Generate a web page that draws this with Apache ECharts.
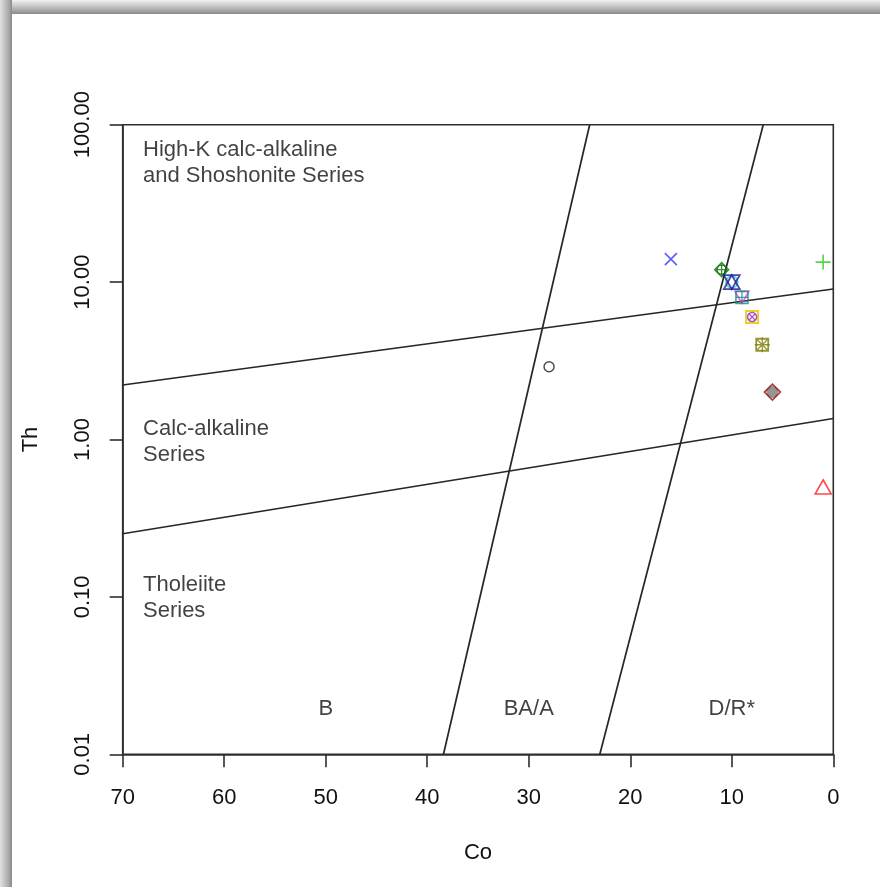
<!DOCTYPE html>
<html>
<head>
<meta charset="utf-8">
<script src="https://cdn.jsdelivr.net/npm/echarts@6/dist/echarts.min.js"></script>
<style>
html,body{margin:0;padding:0;background:#fff;}
#chart{width:880px;height:887px;}
</style>
</head>
<body>
<div id="chart"></div>
<script>
// ---- data ----
const sampleCo = [16, 1, 1, 28, 11, 10, 9, 8, 7, 6];
const sampleTh = [14, 13.4, 0.5, 2.9, 12, 10, 8, 6, 4, 2];

// boundary lines (Co, Th)
const horizCo = [70, 0];
const upperTh = [2.22, 9.04];
const lowerTh = [0.252, 1.36];
const steepTh = [0.01, 100];
const leftCo = [38.4, 24.0];
const rightCo = [23.0, 6.9];

// region labels
const seriesLabels = ['High-K calc-alkaline\nand Shoshonite Series', 'Calc-alkaline\nSeries', 'Tholeiite\nSeries'];
const seriesLabelCo = [68, 68, 68];
const seriesLabelTh = [57, 0.97, 0.098];
const fieldLabels = ['B', 'BA/A', 'D/R*'];
const fieldLabelCo = [50, 30, 10];
const fieldLabelTh = [0.0195, 0.0195, 0.0195];

const xTicks = [0, 10, 20, 30, 40, 50, 60, 70];

// ---- styles ----
const FONT = 'Liberation Sans, Arial, sans-serif';
const AX = '#2e2e2e';
const TXT = '#111111';
const P_X = 'path://M0,0L10,10M0,10L10,0';
const P_PLUS = 'path://M5,0L5,10M0,5L10,5';
const P_STAR = 'path://M5,0L5,10M0,5L10,5M1.5,1.5L8.5,8.5M1.5,8.5L8.5,1.5';
const P_DOWN = 'path://M0,0L10,0L5,8.66Z';

// marker layers: [sampleIndex, symbol, size, color, filled, width]
const layers = [
  [0, P_X, 12, '#3535ff', false, 1.6],
  [1, P_PLUS, 15, '#22cc22', false, 1.6],
  [2, 'triangle', [16, 14], '#ff1a1a', false, 1.6],
  [3, 'circle', 10, '#222222', false, 1.5],
  [4, 'diamond', 14, '#0b720b', false, 1.5],
  [4, 'circle', 9, '#0b720b', false, 1.4],
  [4, P_PLUS, 11, '#0b720b', false, 1.3],
  [5, 'circle', 12, '#22c8e6', false, 1.5],
  [5, 'triangle', [16, 14], '#1c1c8e', false, 1.7],
  [5, P_DOWN, [16, 14], '#1c1c8e', false, 1.7],
  [6, P_DOWN, [14, 12], '#ff33dd', false, 1.6],
  [6, 'rect', 12, '#108a8a', false, 1.6],
  [6, P_PLUS, 12, '#108a8a', false, 1.3],
  [7, 'rect', 12, '#e8c200', false, 2],
  [7, 'circle', 9, '#9a2aa8', false, 1.5],
  [7, P_X, 6, '#9a2aa8', false, 1.3],
  [8, 'rect', 12, '#7c7c00', false, 1.8],
  [8, P_STAR, 15, '#7c7c00', false, 1.3],
  [9, 'circle', 12, '#7a7a7a', true, 0],
  [9, 'diamond', 16, '#8e1010', false, 1.6]
];

const series = [];
function boundary(data) {
  series.push({
    type: 'line', data: data, symbol: 'none', silent: true,
    lineStyle: { color: '#262626', width: 1.7 }, z: 2
  });
}
boundary(horizCo.map((c, i) => [c, upperTh[i]]));
boundary(horizCo.map((c, i) => [c, lowerTh[i]]));
boundary(leftCo.map((c, i) => [c, steepTh[i]]));
boundary(rightCo.map((c, i) => [c, steepTh[i]]));

layers.forEach(l => {
  const [idx, sym, size, color, filled, w] = l;
  series.push({
    type: 'scatter', symbol: sym, symbolSize: size, silent: true, z: 5,
    data: [[sampleCo[idx], sampleTh[idx]]],
    itemStyle: filled ? { color: color } : { color: 'rgba(0,0,0,0)', borderColor: color, borderWidth: w }
  });
});

series.push({
  type: 'scatter', symbolSize: 0, silent: true, z: 4,
  data: seriesLabels.map((t, i) => ({ value: [seriesLabelCo[i], seriesLabelTh[i]], name: t })),
  label: { show: true, position: 'right', distance: 0, formatter: p => p.name,
    fontFamily: FONT, fontSize: 22, lineHeight: 26, color: TXT, align: 'left', verticalAlign: 'middle' }
});
series.push({
  type: 'scatter', symbolSize: 0, silent: true, z: 4,
  data: fieldLabels.map((t, i) => ({ value: [fieldLabelCo[i], fieldLabelTh[i]], name: t })),
  label: { show: true, position: 'inside', formatter: p => p.name,
    fontFamily: FONT, fontSize: 22, color: TXT }
});

const chart = echarts.init(document.getElementById('chart'), null, { renderer: 'canvas' });
chart.setOption({
  animation: false,
  backgroundColor: '#ffffff',
  graphic: [
    { type: 'rect', shape: { x: 0, y: 0, width: 880, height: 14 }, silent: true,
      style: { fill: new echarts.graphic.LinearGradient(0, 0, 0, 1, [
        { offset: 0, color: '#f2f2f2' }, { offset: 0.8, color: '#a2a2a2' }, { offset: 1, color: '#888888' }]) } },
    { type: 'rect', shape: { x: 0, y: 0, width: 12, height: 887 }, silent: true,
      style: { fill: new echarts.graphic.LinearGradient(0, 0, 1, 0, [
        { offset: 0, color: '#e2e2e2' }, { offset: 0.8, color: '#a2a2a2' }, { offset: 1, color: '#888888' }]) } }
  ],
  grid: { left: 122.7, right: 46.7, top: 124.7, bottom: 132.7, show: true,
    borderColor: AX, borderWidth: 1.6, backgroundColor: 'rgba(0,0,0,0)' },
  xAxis: {
    type: 'value', inverse: true, min: 0, max: 70, interval: 10,
    name: 'Co', nameLocation: 'middle', nameGap: 88,
    nameTextStyle: { fontFamily: FONT, fontSize: 22, color: TXT },
    axisLine: { show: true, onZero: false, lineStyle: { color: AX, width: 1.6 } },
    axisTick: { show: true, length: 13, lineStyle: { color: AX, width: 1.6 } },
    axisLabel: { margin: 33, fontFamily: FONT, fontSize: 22, color: TXT,
      formatter: v => (xTicks.indexOf(v) >= 0 ? String(v) : '') },
    splitLine: { show: false }
  },
  yAxis: {
    type: 'log', logBase: 10, min: 0.01, max: 100,
    name: 'Th', nameLocation: 'middle', nameGap: 81, nameRotate: 90,
    nameTextStyle: { fontFamily: FONT, fontSize: 22, color: TXT },
    axisLine: { show: true, onZero: false, lineStyle: { color: AX, width: 1.6 } },
    axisTick: { show: true, length: 13, lineStyle: { color: AX, width: 1.6 } },
    minorTick: { show: false },
    axisLabel: { rotate: 90, margin: 29, fontFamily: FONT, fontSize: 22, color: TXT,
      formatter: v => Number(v).toFixed(2) },
    splitLine: { show: false }
  },
  series: series
});
</script>
</body>
</html>
